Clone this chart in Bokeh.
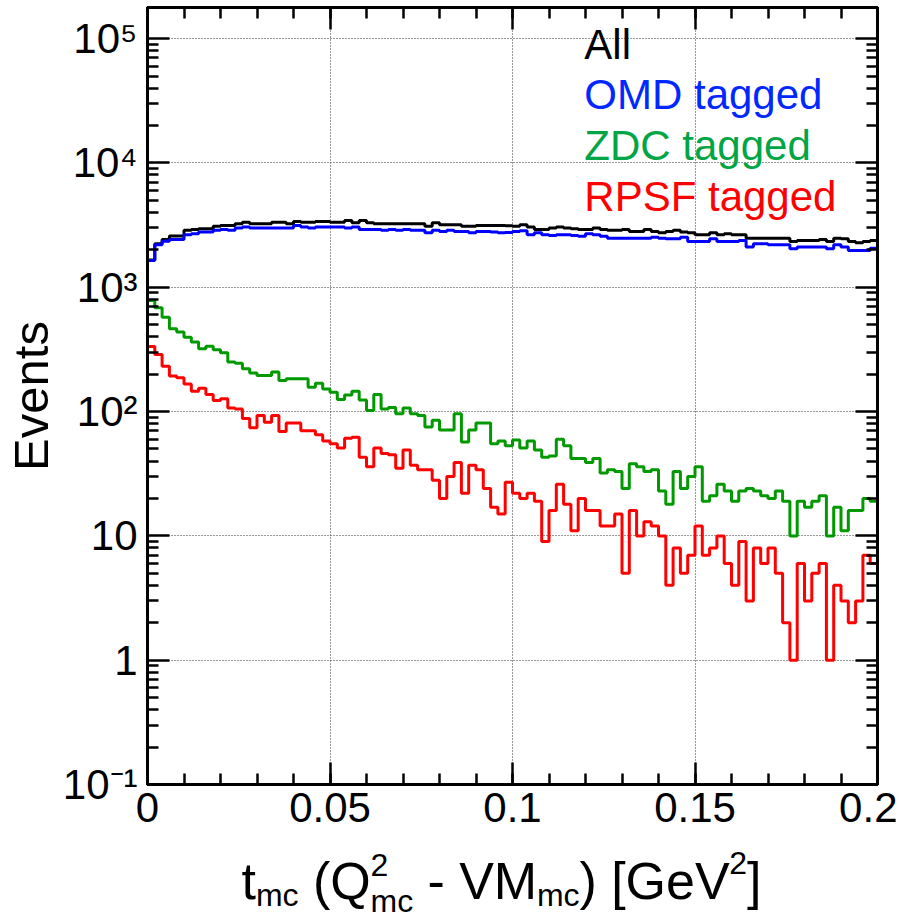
import math
import numpy as np
from bokeh.plotting import figure
from bokeh.layouts import column
from bokeh.models import (Range1d, LinearAxis, LogAxis, FixedTicker,
                          CustomJSTickFormatter)
from bokeh.core.properties import value
from bokeh.embed import file_html
from bokeh.resources import INLINE

# ---------------- data ----------------
T_MIN, T_MAX, N_BINS = 0.0, 0.2, 100

all_events = [1660, 2240, 2420, 2580, 2580, 2870, 2920, 2950, 2950, 3100,
              3140, 3140, 3240, 3340, 3240, 3240, 3240, 3340, 3340, 3240,
              3380, 3340, 3340, 3380, 3380, 3340, 3340, 3450, 3300, 3450,
              3300, 3240, 3240, 3240, 3240, 3240, 3240, 3240, 3100, 3300,
              3180, 3180, 3180, 3100, 3100, 3140, 3140, 3140, 3140, 3120,
              3100, 3180, 3050, 2920, 2920, 2990, 3050, 2990, 2950, 2920,
              2920, 2990, 2920, 2870, 2870, 2920, 2810, 2810, 2920, 2810,
              2740, 2810, 2870, 2780, 2740, 2645, 2645, 2740, 2645, 2690,
              2645, 2645, 2484, 2484, 2484, 2484, 2484, 2484, 2336, 2380,
              2380, 2380, 2424, 2336, 2484, 2455, 2336, 2280, 2336, 2380]

omd_tagged = [1640, 2200, 2340, 2420, 2420, 2645, 2700, 2780, 2780, 2870,
              2920, 2870, 2990, 3050, 2990, 2990, 2990, 2990, 2990, 2990,
              3140, 3050, 2990, 3050, 3050, 3050, 3050, 2990, 3050, 2920,
              2920, 2920, 2870, 2920, 2870, 2920, 2870, 2870, 2740, 2870,
              2810, 2870, 2810, 2810, 2740, 2810, 2810, 2780, 2740, 2760,
              2810, 2850, 2645, 2740, 2645, 2610, 2645, 2645, 2610, 2577,
              2690, 2645, 2577, 2484, 2484, 2484, 2484, 2484, 2484, 2530,
              2484, 2455, 2455, 2530, 2336, 2336, 2336, 2455, 2336, 2336,
              2336, 2380, 2103, 2239, 2239, 2198, 2198, 2198, 2040, 2103,
              2103, 2103, 2103, 2040, 2198, 2103, 1977, 1977, 1977, 2064]

zdc_tagged = [783, 684, 575, 464, 436, 397, 362, 320, 336, 314,
              297, 250, 245, 221, 204, 195, 195, 208, 178, 184,
              184, 184, 157, 169, 152, 143, 125, 136, 146, 124,
              102, 137, 105, 108, 96, 107, 96, 93, 75, 85,
              71, 71, 96, 57, 71, 81, 81, 55, 58, 53,
              59, 51, 58, 49, 43, 44, 60, 53, 42, 42,
              39, 42, 32, 34, 33, 24, 38, 36, 33, 34,
              23, 18, 33, 24, 30, 36, 19, 21, 26, 23,
              19, 23, 24, 23, 21, 20, 23, 19, 10, 19,
              17, 19, 21, 10, 17, 11, 16, 16, 20, 19]

rpsf_tagged = [334, 288, 232, 193, 187, 167, 146, 154, 137, 123,
               127, 107, 105, 88, 74, 93, 82, 93, 69, 81,
               81, 70, 70, 65, 58, 55, 51, 61, 62, 43,
               36, 51, 46, 45, 35, 49, 37, 34, 34, 28,
               20, 30, 39, 22, 37, 34, 24, 17, 15, 27,
               22, 20, 22, 19, 9, 16, 26, 18, 11, 20,
               16, 16, 12, 12, 15, 5, 16, 10, 13, 12,
               10, 4, 8, 5, 7, 12, 7, 8, 10, 6,
               4, 9, 3, 8, 6, 8, 5, 2, 1, 6,
               3, 5, 6, 1, 4, 3, 2, 3, 7, 6]

series = [all_events, omd_tagged, zdc_tagged, rpsf_tagged]
series_labels = ["All", "OMD tagged", "ZDC tagged", "RPSF tagged"]
line_colors = ["#000000", "#0000ff", "#009a00", "#ff0000"]
text_colors = ["#000000", "#0028ff", "#00a646", "#ff0000"]

x_major = [0.0, 0.05, 0.1, 0.15, 0.2]
y_exponents = [-1, 0, 1, 2, 3, 4, 5]
Y_MIN, Y_MAX = 0.1, 1.78e5
y_title = "Events"
# x title: t_mc (Q^2_mc - VM_mc) [GeV^2]
x_title_pieces = [("t", "main"), ("mc", "sub"), (" ", "gap"), ("(Q", "main"),
                  (("2", "mc"), "supsub"), (" ", "gap"), ("-", "main"), (" ", "gap"),
                  ("VM", "main"), ("mc", "sub"), (")", "main"), (" ", "gap"),
                  ("[GeV", "main"), ("2", "sup"), ("]", "main")]

# ---------------- geometry ----------------
FONT = "Liberation Sans"
FL, FR, FT, FB = 145, 20, 7, 58          # borders of main plot
FW, FH = 732, 777                          # frame size
W = FL + FW + FR
H1 = FT + FH + FB
H2 = 78                                     # strip holding the x title
PX_PER_DEC = FH / (math.log10(Y_MAX) - math.log10(Y_MIN))
BASELINE_FIX = 0.34                         # em shift of alphabetic baseline


def xdata(px):          # px from frame left
    return T_MIN + px / FW * (T_MAX - T_MIN)


def ydata_top(px):      # px below frame top
    return 10 ** (math.log10(Y_MAX) - px / PX_PER_DEC)


p = figure(width=W, height=H1,
           x_range=Range1d(T_MIN, T_MAX), y_range=Range1d(Y_MIN, Y_MAX),
           y_axis_type="log", output_backend="svg", toolbar_location=None,
           min_border_left=FL, min_border_right=FR,
           min_border_top=FT, min_border_bottom=FB)
p.background_fill_color = "white"
p.border_fill_color = "white"
p.outline_line_color = "black"
p.outline_line_width = 3

x_ticker = FixedTicker(ticks=x_major,
                       minor_ticks=[T_MIN + i * 0.01 for i in range(21)])
y_ticker = FixedTicker(ticks=[10.0 ** e for e in y_exponents],
                       minor_ticks=[m * 10.0 ** e for e in y_exponents for m in range(2, 10)])

x_fmt = CustomJSTickFormatter(code="return String(Math.round(tick*1000)/1000);")
y_fmt = CustomJSTickFormatter(code="""
const e = Math.round(Math.log10(tick));
if (e == 0) return "1";
if (e == 1) return "10";
const sup = {"-":"\u207b","0":"\u2070","1":"\u00b9","2":"\u00b2","3":"\u00b3","4":"\u2074","5":"\u2075","6":"\u2076","7":"\u2077","8":"\u2078","9":"\u2079"};
return "10" + String(e).split("").map(c => sup[c]).join("");
""")
blank_fmt = CustomJSTickFormatter(code="return '';")


def style_axis(ax, labels=True):
    ax.axis_line_color = "black"
    ax.axis_line_width = 3
    ax.major_tick_line_color = "black"
    ax.major_tick_line_width = 2.5
    ax.minor_tick_line_color = "black"
    ax.minor_tick_line_width = 2.5
    ax.major_tick_in = 22
    ax.major_tick_out = 0
    ax.minor_tick_in = 11
    ax.minor_tick_out = 0
    ax.major_label_text_font = FONT
    ax.major_label_text_color = "black"
    if labels:
        ax.major_label_text_font_size = "42px"
    else:
        ax.axis_label = None
        ax.formatter = blank_fmt
        ax.major_label_text_font_size = "10px"
        ax.major_label_standoff = 0


xax = p.xaxis[0]
yax = p.yaxis[0]
xax.ticker = x_ticker
xax.formatter = x_fmt
yax.ticker = y_ticker
yax.formatter = y_fmt
style_axis(xax)
style_axis(yax)
xax.axis_label = None
xax.major_label_standoff = 8
yax.major_label_standoff = 10
yax.axis_label = y_title
yax.axis_label_text_font = FONT
yax.axis_label_text_font_size = "49px"
yax.axis_label_text_font_style = "normal"
yax.axis_label_text_color = "black"
yax.axis_label_standoff = 2

top_ax = LinearAxis(ticker=x_ticker)
style_axis(top_ax, labels=False)
p.add_layout(top_ax, "above")
right_ax = LogAxis(ticker=y_ticker)
style_axis(right_ax, labels=False)
p.add_layout(right_ax, "right")

p.xgrid.ticker = x_ticker
p.ygrid.ticker = y_ticker
p.grid.grid_line_color = "#333333"
p.grid.grid_line_width = 1
p.grid.grid_line_dash = "1 2"

# ---------------- histograms ----------------
edges = np.linspace(T_MIN, T_MAX, N_BINS + 1)
for counts, color in zip(series, line_colors):
    ys = list(counts) + [counts[-1]]
    p.step(x=edges, y=ys, mode="after", line_color=color, line_width=3)

# ---------------- legend (text only) ----------------
LEG_SIZE = 42
leg_x = xdata(438)
leg_y = [ydata_top(51 - BASELINE_FIX * LEG_SIZE + 50.7 * i) for i in range(len(series_labels))]
p.text(x=[leg_x] * len(series_labels), y=leg_y, text=series_labels,
       text_color=text_colors, text_font=value(FONT), text_font_size=f"{LEG_SIZE}px",
       text_baseline="alphabetic", text_align="left")

# ---------------- x title strip (frame aligned with main frame) ----------------
p2 = figure(width=W, height=H2, x_range=Range1d(0, FW), y_range=Range1d(0, H2),
            output_backend="svg", toolbar_location=None,
            x_axis_location=None, y_axis_location=None,
            min_border_left=FL, min_border_right=FR,
            min_border_top=0, min_border_bottom=0)
p2.outline_line_color = None
p2.grid.visible = False
p2.background_fill_color = "white"
p2.border_fill_color = "white"

ADV = {"t": 278, "m": 833, "c": 500, " ": 278, "(": 333, "Q": 778, "-": 333,
       "V": 667, "M": 833, ")": 333, "[": 278, "G": 778, "e": 556, "]": 278, "2": 556}
F, S = 52, 32
# baseline of each role, px above the strip bottom (strip bottom = page y 920)
ROLE_BASE = {"main": 22, "sub": 15, "sup": 47, "supsub_sup": 45, "supsub_sub": 9}


def adv(s, size):
    return sum(ADV[ch] for ch in s) / 1000.0 * size


runs = []
widths = []
for txt, role in x_title_pieces:
    if role == "supsub":
        sup_t, sub_t = txt
        runs.append((sup_t, S, ROLE_BASE["supsub_sup"]))
        runs.append((sub_t, S, ROLE_BASE["supsub_sub"]))
        widths.append((2, max(adv(sup_t, S), adv(sub_t, S))))
    elif role == "gap":
        widths.append((0, adv(txt, F)))
    else:
        size = F if role == "main" else S
        runs.append((txt, size, ROLE_BASE[role]))
        widths.append((1, adv(txt, size)))
total = sum(w for _, w in widths)
cursor = 355 - total / 2.0          # px from frame left
xs, ys, texts, sizes = [], [], [], []
k = 0
for n, w in widths:
    for j in range(n):
        t, s, b = runs[k]
        xs.append(cursor)
        ys.append(b + BASELINE_FIX * s)
        texts.append(t)
        sizes.append(f"{s}px")
        k += 1
    cursor += w
p2.text(x=xs, y=ys, text=texts, text_font_size=sizes, text_font=value(FONT),
        text_color="black", text_baseline="alphabetic", text_align="left")

layout = column(p, p2, spacing=0)
open("out.html", "w").write(file_html(layout, INLINE))
